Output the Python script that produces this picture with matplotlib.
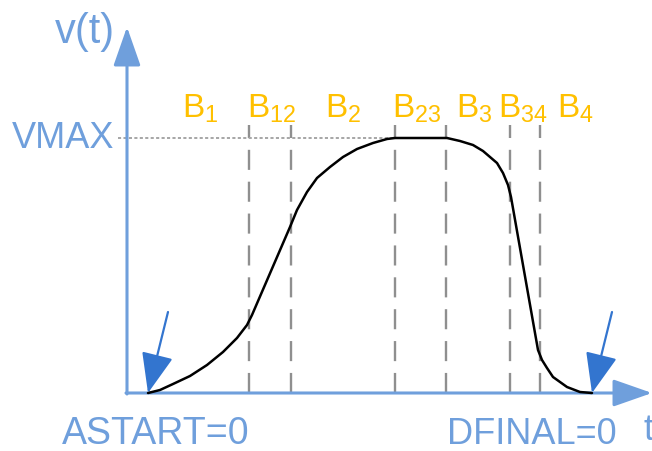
"""S-curve velocity profile with segment boundaries B1..B4."""

import matplotlib.pyplot as plt

plt.rcParams['font.family'] = ['Liberation Sans', 'DejaVu Sans']
plt.rcParams['mathtext.fontset'] = 'custom'
plt.rcParams['mathtext.rm'] = 'Liberation Sans'

AXIS_BLUE = "#6f9fdc"
ARROW_BLUE = "#3375cf"
GOLD = "#ffc000"
GRAY = "#8f8f8f"

# curve (t, v), origin at the axes corner
curve_t = [21, 33, 46, 63, 80, 96, 110, 120, 125, 163, 170, 180, 190, 203, 216, 230,
           246, 260, 268, 320, 333, 346, 356, 363, 370, 376, 381, 384, 411, 415, 420,
           426, 440, 453, 465]
curve_v = [0, 3, 9, 17, 28, 41, 55, 68, 78, 166, 183, 201, 215, 226, 236, 244,
           250, 254, 255, 255, 252, 248, 242, 236, 230, 220, 208, 196, 43, 33, 25,
           16, 6, 1, 0]

boundaries = [122, 164, 268, 319, 383, 413]
t_start, t_end = 21, 465
vmax = 255
dash_top = 268

seg_labels = ["1", "12", "2", "23", "3", "34", "4"]
label_pos = [73, 145, 216, 290, 347, 396, 448]

fig = plt.figure(figsize=(6.52, 4.51), dpi=100)
ax = fig.add_axes([0, 0, 1, 1])
ax.set_xlim(-127, 525)
ax.set_ylim(-58, 393)
ax.axis("off")

# boundaries and vmax level
for b in boundaries:
    ax.plot([b, b], [0, dash_top], color=GRAY, lw=1.7, ls=(0, (8.5, 5)), zorder=1)
ax.plot([-9, boundaries[2]], [vmax, vmax], color="#a6a6a6", lw=1.4, ls=(0, (1.6, 1.2)), zorder=1)

ax.plot(curve_t, curve_v, color="black", lw=1.8, zorder=3,
        solid_capstyle="round", solid_joinstyle="round")

# axes with arrow heads
axis_arrow = dict(arrowstyle="-|>,head_length=1.2,head_width=0.42", color=AXIS_BLUE,
                  lw=2.2, mutation_scale=20, shrinkA=0, shrinkB=0)
ax.annotate("", xy=(0, 366), xytext=(0, -1), arrowprops=axis_arrow, zorder=2)
ax.annotate("", xy=(525, 0), xytext=(-1, 0), arrowprops=axis_arrow, zorder=2)

# start / end pointers
ptr = dict(arrowstyle="-|>,head_length=1.25,head_width=0.5", color=ARROW_BLUE,
           lw=1.6, mutation_scale=20, shrinkA=0, shrinkB=0)
ax.annotate("", xy=(t_start, 0), xytext=(t_start + 20, 81), arrowprops=ptr, zorder=4)
ax.annotate("", xy=(t_end, 0), xytext=(t_end + 20, 81), arrowprops=ptr, zorder=4)

for lab, x in zip(seg_labels, label_pos):
    ax.text(x, 276, "B$_\\mathregular{%s}$" % lab, color=GOLD, fontsize=24,
            ha="center", va="baseline")

ax.text(-13, vmax, "VMAX", color=AXIS_BLUE, fontsize=26, ha="right", va="center")
ax.text(-42, 350, "v(t)", color=AXIS_BLUE, fontsize=30, ha="center", va="baseline")
ax.text(29, -51, "ASTART=0", color=AXIS_BLUE, fontsize=27, ha="center", va="baseline")
ax.text(405, -51, "DFINAL=0", color=AXIS_BLUE, fontsize=26, ha="center", va="baseline")
ax.text(516, -47, "t", color=AXIS_BLUE, fontsize=26, ha="left", va="baseline")

fig.savefig("out.png", dpi=100)
